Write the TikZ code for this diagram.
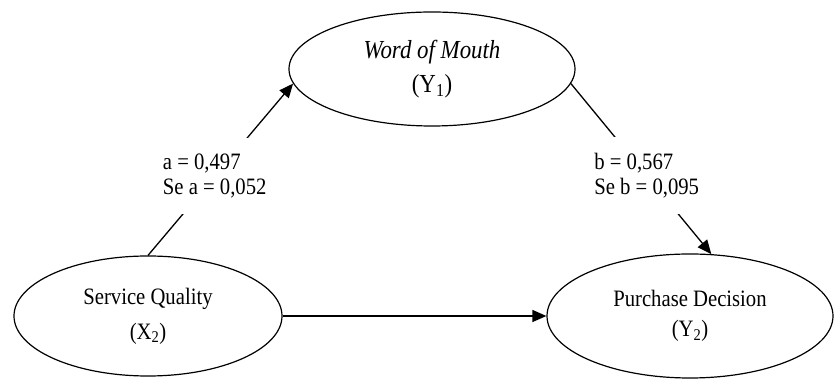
\documentclass[tikz,border=0pt]{standalone}
\usepackage{fontspec}
\setmainfont{Liberation Serif}[FakeStretch=0.88]
\usetikzlibrary{shapes.geometric,arrows.meta}

\begin{document}
\begin{tikzpicture}[x=1pt,y=1pt,
        var/.style={
          draw,ellipse,line width=1.2pt,inner sep=0pt,align=center,
          font=\fontsize{23.5}{35}\selectfont
        },
        path/.style={
          line width=1.3pt,-{Triangle[length=14pt,width=12pt]}
        },
        coef/.style={
          fill=white,inner xsep=2pt,inner ysep=16pt,align=left,
          font=\fontsize{23.5}{25}\selectfont
        }
      ]
      \useasboundingbox (0,0) rectangle (835,379);
      \node [var,minimum width=286,minimum height=114,
             font=\fontsize{26}{34}\selectfont] (wom) at (432,310)
            {\textit{Word of Mouth}\\(Y\textsubscript{1})};
      \node [var,minimum width=268,minimum height=120] (sq) at (148,63)
            {Service Quality\\(X\textsubscript{2})};
      \node [var,minimum width=286,minimum height=124,
             font=\fontsize{23.5}{30}\selectfont] (pd) at (690,63)
            {Purchase Decision\\(Y\textsubscript{2})};
      \draw [path] (sq.north) -- node [coef,pos=.46] (la) {a = 0,497\\Se a = 0,052} (wom.186);
      \draw [path] (wom.354) -- node [coef,pos=.54] (lb) {b = 0,567\\Se b = 0,095} (pd.71);
      \draw [path] (sq.east) -- (pd.west);
    \end{tikzpicture}
\end{document}
